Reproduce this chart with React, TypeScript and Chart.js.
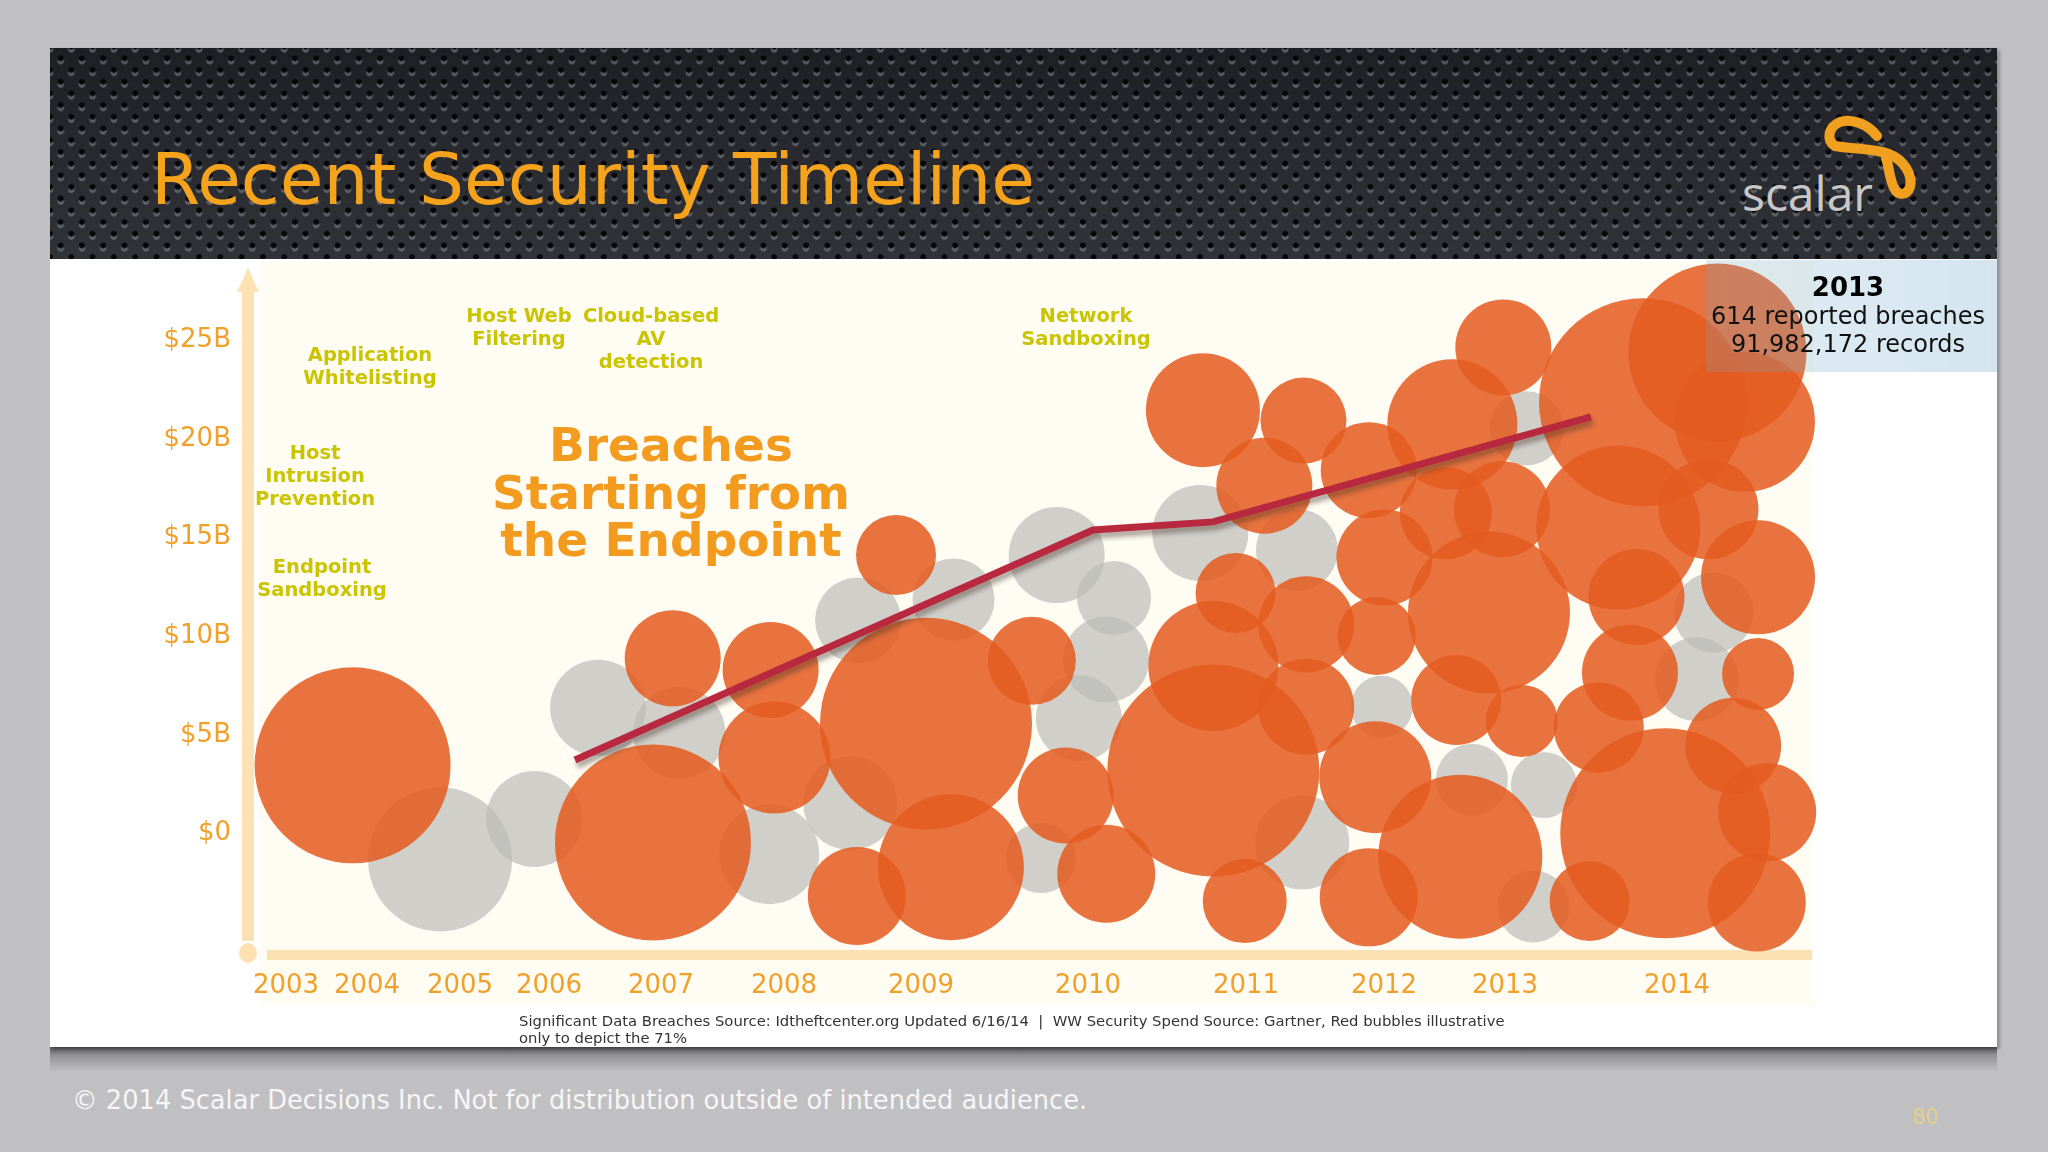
import React, { useEffect, useRef } from 'react';
import { Chart, registerables } from 'chart.js';

Chart.register(...registerables);

// ---------- data ----------
// x axis is a "timeline position" (0-100 across the axis bar); years are placed unevenly on it
const yearLabels = ['2003', '2004', '2005', '2006', '2007', '2008', '2009', '2010', '2011', '2012', '2013', '2014'];
const yearPositions = [2.45, 7.66, 13.64, 19.37, 26.58, 34.49, 43.31, 54.05, 64.22, 73.1, 80.89, 91.96];

// y axis: WW security spend, $B
const spendTickValues = [0, 5, 10, 15, 20, 25];
const spendTickLabels = ['$0', '$5B', '$10B', '$15B', '$20B', '$25B'];

// WW security spend line
const spendX = [21.04, 54.38, 62.1, 86.42];
const spendY = [3.58, 15.23, 15.64, 20.96];

// significant data breaches (grey bubbles): [timeline, $B position, radius px]
const breachBubbles: [number, number, number][] = [
  [12.36, -1.46, 72],
  [18.42, 0.59, 48],
  [22.53, 6.22, 48],
  [27.75, 4.96, 46],
  [33.54, -1.19, 50],
  [39.26, 10.65, 43],
  [45.4, 11.71, 41],
  [38.76, 1.39, 47],
  [52.04, 13.96, 48],
  [55.73, 11.78, 37],
  [55.23, 8.67, 43],
  [53.46, 5.69, 43],
  [51.03, -1.39, 35],
  [61.28, 15.08, 48],
  [67.5, 14.22, 41],
  [72.96, 6.28, 31],
  [67.84, -0.6, 47],
  [82.29, 20.38, 37],
  [78.76, 2.58, 36],
  [83.39, 2.31, 33],
  [82.71, -3.84, 36],
  [93.22, 7.67, 42],
  [94.31, 11.05, 40],
];

// red bubbles (illustrative, the 71%)
const endpointBubbles: [number, number, number][] = [
  [6.73, 3.31, 98],
  [26.06, -0.6, 98],
  [27.33, 8.73, 48],
  [33.63, 8.14, 48],
  [33.88, 3.7, 56],
  [43.63, 5.42, 106],
  [41.7, 13.96, 40],
  [50.44, 8.6, 44],
  [45.23, -1.85, 73],
  [39.18, -3.31, 49],
  [52.62, 1.78, 48],
  [55.23, -2.18, 49],
  [61.45, 21.3, 57],
  [67.92, 20.77, 43],
  [65.4, 17.47, 48],
  [63.55, 12.04, 40],
  [62.12, 8.34, 65],
  [62.12, 3.04, 106],
  [68.09, 10.45, 48],
  [68.09, 6.28, 48],
  [64.14, -3.57, 42],
  [72.12, 18.26, 48],
  [73.13, 13.83, 48],
  [72.63, 9.86, 39],
  [72.54, 2.71, 56],
  [72.12, -3.38, 49],
  [77.5, 20.58, 65],
  [80.78, 24.48, 48],
  [80.7, 16.28, 48],
  [79.86, 11.05, 81],
  [77.75, 6.62, 45],
  [81.96, 5.56, 36],
  [78.01, -1.32, 82],
  [88.93, 8.0, 48],
  [86.92, 5.23, 45],
  [89.35, 11.84, 48],
  [91.2, -0.13, 105],
  [86.33, -3.57, 40],
  [97.09, -3.64, 49],
  [97.76, 0.93, 49],
  [95.57, 4.3, 48],
  [97.17, 7.94, 36],
  [97.17, 12.83, 57],
  [89.77, 21.7, 104],
  [94.56, 24.22, 89],
  [96.33, 20.71, 70],
  [88.18, 15.35, 82],
  [93.98, 16.28, 50],
  [77.08, 16.08, 46],
];

const annotations = [
  { lines: ['Application', 'Whitelisting'], x: 370, y: 354 },
  { lines: ['Host Web', 'Filtering'], x: 519, y: 315 },
  { lines: ['Cloud-based', 'AV', 'detection'], x: 651, y: 315 },
  { lines: ['Host', 'Intrusion', 'Prevention'], x: 315, y: 452 },
  { lines: ['Endpoint', 'Sandboxing'], x: 322, y: 566 },
  { lines: ['Network', 'Sandboxing'], x: 1086, y: 315 },
];

const FONT = '"DejaVu Sans", Verdana, sans-serif';
const ORANGE_TEXT = '#f1a029';

const axisDecor = {
  id: 'axisDecor',
  beforeDraw(chart: any) {
    const { ctx, chartArea: a } = chart;
    ctx.save();
    ctx.fillStyle = '#fefcf3';
    ctx.fillRect(a.left + 11, a.top - 8, a.right - a.left + 1, a.bottom - a.top + 59);
    ctx.restore();
  },
  beforeDatasetsDraw(chart: any) {
    const { ctx, chartArea: a } = chart;
    ctx.save();
    ctx.fillStyle = '#fce1b3';
    ctx.fillRect(a.left - 6, a.top + 18, 12, a.bottom - a.top - 32);
    ctx.beginPath();
    ctx.moveTo(a.left, a.top - 2);
    ctx.lineTo(a.left + 11, a.top + 22);
    ctx.lineTo(a.left - 11, a.top + 22);
    ctx.closePath();
    ctx.fill();
    ctx.beginPath();
    ctx.ellipse(a.left, a.bottom - 2, 9, 10, 0, 0, Math.PI * 2);
    ctx.fill();
    ctx.fillRect(a.left + 19, a.bottom - 5, a.right - a.left - 9, 10);
    ctx.restore();
  },
};

const lineShadow = {
  id: 'lineShadow',
  beforeDatasetDraw(chart: any, args: any) {
    if (chart.data.datasets[args.index].type === 'line') {
      const ctx = chart.ctx;
      ctx.save();
      ctx.shadowColor = 'rgba(70,50,40,0.45)';
      ctx.shadowBlur = 5;
      ctx.shadowOffsetX = 2;
      ctx.shadowOffsetY = 5;
    }
  },
  afterDatasetDraw(chart: any, args: any) {
    if (chart.data.datasets[args.index].type === 'line') chart.ctx.restore();
  },
};

function TimelineChart() {
  const ref = useRef<HTMLCanvasElement | null>(null);
  useEffect(() => {
    if (!ref.current) return;
    const chart = new Chart(ref.current, {
      type: 'bubble',
      data: {
        datasets: [
          {
            type: 'line',
            label: 'WW Security Spend',
            data: spendX.map((x, i) => ({ x, y: spendY[i] })),
            borderColor: '#b8283f',
            borderWidth: 7,
            pointRadius: 0,
            tension: 0,
            order: 0,
            clip: false,
          } as any,
          {
            label: 'Red bubbles (illustrative)',
            data: endpointBubbles.map(([x, y, r]) => ({ x, y, r })),
            backgroundColor: 'rgba(228,90,30,0.85)',
            borderWidth: 0,
            order: 1,
            clip: false,
          },
          {
            label: 'Significant data breaches',
            data: breachBubbles.map(([x, y, r]) => ({ x, y, r })),
            backgroundColor: 'rgba(185,185,183,0.68)',
            borderWidth: 0,
            order: 2,
            clip: false,
          },
        ],
      },
      options: {
        responsive: false,
        animation: false,
        devicePixelRatio: 1,
        events: [],
        layout: { autoPadding: false, padding: { top: 11, right: 195, left: 0, bottom: 0 } },
        plugins: { legend: { display: false }, tooltip: { enabled: false } },
        scales: {
          x: {
            type: 'linear',
            min: 0,
            max: 100,
            grid: { display: false, drawTicks: false },
            border: { display: false },
            afterBuildTicks: (s: any) => {
              s.ticks = yearPositions.map((v) => ({ value: v }));
            },
            afterFit: (s: any) => {
              s.height = 92;
              s.paddingLeft = 0;
              s.paddingRight = 0;
              s.paddingTop = 0;
              s.paddingBottom = 0;
            },
            ticks: {
              autoSkip: false,
              maxRotation: 0,
              padding: 16,
              color: ORANGE_TEXT,
              font: { family: FONT, size: 26 },
              callback: (_v: any, i: number) => yearLabels[i],
            },
          },
          y: {
            type: 'linear',
            min: -6.3,
            max: 28.4,
            grid: { display: false, drawTicks: false },
            border: { display: false },
            afterBuildTicks: (s: any) => {
              s.ticks = spendTickValues.map((v) => ({ value: v }));
            },
            afterFit: (s: any) => {
              s.width = 198;
              s.paddingLeft = 0;
              s.paddingRight = 0;
              s.paddingTop = 0;
              s.paddingBottom = 0;
            },
            ticks: {
              padding: 17,
              labelOffset: 3,
              color: ORANGE_TEXT,
              font: { family: FONT, size: 26 },
              callback: (_v: any, i: number) => spendTickLabels[i],
            },
          },
        },
      },
      plugins: [axisDecor, lineShadow],
    });
    return () => chart.destroy();
  }, []);
  return (
    <canvas
      ref={ref}
      width={1947}
      height={788}
      style={{ position: 'absolute', left: 50, top: 259, width: 1947, height: 788 }}
    />
  );
}

function Lines({ lines, x, y, size, lh, color, weight }: any) {
  return (
    <div
      style={{
        position: 'absolute',
        left: x - 250,
        width: 500,
        top: y - lh / 2,
        textAlign: 'center',
        fontFamily: FONT,
        fontSize: size,
        lineHeight: lh + 'px',
        fontWeight: weight,
        color,
        whiteSpace: 'nowrap',
      }}
    >
      {lines.map((l: string, i: number) => (
        <div key={i}>{l}</div>
      ))}
    </div>
  );
}

const dotDark = 'radial-gradient(circle at 50% 44%, #070709 0, #070709 2.6px, rgba(0,0,0,0) 3.3px)';
const dotLight =
  'radial-gradient(circle at 50% 56%, rgba(135,140,150,0.55) 0, rgba(135,140,150,0.55) 2.9px, rgba(0,0,0,0) 3.7px)';
const headerBg = [
  `${dotDark} 0 0 / 21.3px 23.4px`,
  `${dotDark} 10.65px 11.7px / 21.3px 23.4px`,
  `${dotLight} 0 0 / 21.3px 23.4px`,
  `${dotLight} 10.65px 11.7px / 21.3px 23.4px`,
  'linear-gradient(180deg, #1d1f23 0%, #282a2f 50%, #303338 100%)',
].join(', ');

export default function App() {
  useEffect(() => {
    document.body.style.margin = '0';
  }, []);
  return (
    <div
      style={{
        position: 'absolute',
        left: 0,
        top: 0,
        width: 2048,
        height: 1152,
        overflow: 'hidden',
        background: '#c0bfc2',
        fontFamily: FONT,
      }}
    >
      {/* slide shadow */}
      <div
        style={{
          position: 'absolute',
          left: 50,
          top: 1044,
          width: 1947,
          height: 28,
          background: 'linear-gradient(to bottom, rgba(35,35,38,0.85), rgba(90,90,92,0.45) 40%, rgba(192,191,194,0))',
        }}
      />
      {/* slide */}
      <div
        style={{
          position: 'absolute',
          left: 50,
          top: 48,
          width: 1947,
          height: 999,
          background: '#ffffff',
          boxShadow: '3px 2px 3px rgba(0,0,0,0.25)',
        }}
      />
      {/* header */}
      <div
        style={{
          position: 'absolute',
          left: 50,
          top: 48,
          width: 1947,
          height: 211,
          background: headerBg,
        }}
      />
      <div
        style={{
          position: 'absolute',
          left: 151,
          top: 144,
          fontSize: 71,
          lineHeight: '71px',
          color: '#f5a31d',
          whiteSpace: 'nowrap',
        }}
      >
        Recent Security Timeline
      </div>
      {/* logo */}
      <div
        style={{
          position: 'absolute',
          left: 1742,
          top: 169,
          fontFamily: '"Open Sans", sans-serif',
          fontSize: 48,
          lineHeight: '48px',
          color: '#c8c8c8',
        }}
      >
        scalar
      </div>
      <svg
        style={{ position: 'absolute', left: 1800, top: 100, width: 140, height: 110 }}
        viewBox="1800 100 140 110"
      >
        <path
          d="M1877,136 C1868,124 1851,118 1840,122 C1828,127 1826,140 1835,146 C1850,149 1872,148 1889,154 C1904,160 1913,175 1910,187 C1907,196 1898,196 1894,188 C1889,178 1889,166 1886,158"
          fill="none"
          stroke="#f0a01e"
          strokeWidth={10}
          strokeLinecap="round"
          strokeLinejoin="round"
        />
      </svg>

      <TimelineChart />

      {annotations.map((a, i) => (
        <Lines key={i} lines={a.lines} x={a.x} y={a.y} size={19.5} lh={23} color="#cbc400" weight="bold" />
      ))}
      <Lines
        lines={['Breaches', 'Starting from', 'the Endpoint']}
        x={671}
        y={445}
        size={47}
        lh={47.5}
        color="#f39b1e"
        weight="bold"
      />

      {/* info box */}
      <div
        style={{
          position: 'absolute',
          left: 1706,
          top: 260,
          width: 291,
          height: 112,
          background: 'linear-gradient(to right, rgba(115,170,205,0.22), rgba(115,170,205,0.3))',
        }}
      />
      <Lines lines={['2013']} x={1848} y={287} size={26} lh={28} color="#000" weight="bold" />
      <Lines lines={['614 reported breaches', '91,982,172 records']} x={1848} y={316} size={24} lh={28.5} color="#111" weight="normal" />

      {/* source note */}
      <div
        style={{
          position: 'absolute',
          left: 519,
          top: 1012,
          fontSize: 14.8,
          lineHeight: '17px',
          color: '#333',
          whiteSpace: 'nowrap',
        }}
      >
        Significant Data Breaches Source: Idtheftcenter.org Updated 6/16/14&nbsp; |&nbsp; WW Security Spend Source: Gartner, Red bubbles illustrative
        <br />
        only to depict the 71%
      </div>

      {/* footer */}
      <div
        style={{
          position: 'absolute',
          left: 72,
          top: 1086,
          fontSize: 25.7,
          lineHeight: '28px',
          color: '#f6f6f6',
          whiteSpace: 'nowrap',
        }}
      >
        © 2014 Scalar Decisions Inc. Not for distribution outside of intended audience.
      </div>
      <div
        style={{
          position: 'absolute',
          left: 1912,
          top: 1104,
          fontSize: 21,
          lineHeight: '26px',
          color: '#e3cf8a',
        }}
      >
        80
      </div>
    </div>
  );
}
